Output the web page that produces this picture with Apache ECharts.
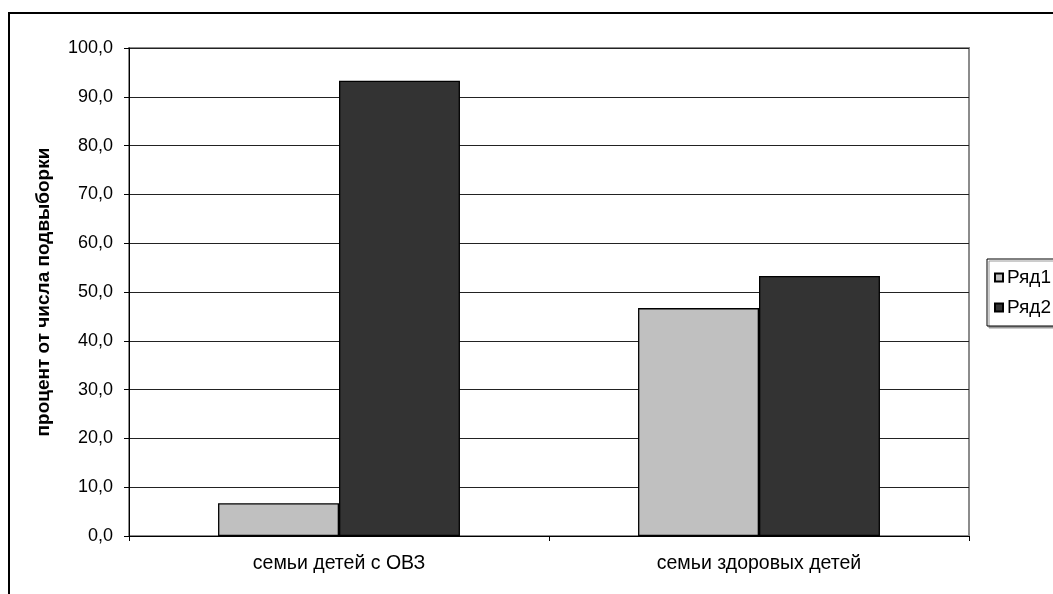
<!DOCTYPE html>
<html>
<head>
<meta charset="utf-8">
<script src="https://cdn.jsdelivr.net/npm/echarts@6/dist/echarts.min.js"></script>
<style>
  html, body { margin: 0; padding: 0; background: #fff; }
  #chart { width: 1053px; height: 594px; }
</style>
</head>
<body>
<div id="chart"></div>
<script>
// Share of each sub-sample, percent
const categories = ['семьи детей с ОВЗ', 'семьи здоровых детей'];
const seriesNames = ['Ряд1', 'Ряд2'];
const row1 = [6.7, 46.7];
const row2 = [93.3, 53.3];
const yTicks = { min: 0, max: 100, step: 10 };
const yTitle = 'процент от числа подвыборки';

const FONT = '"Liberation Sans", Arial, sans-serif';
const chart = echarts.init(document.getElementById('chart'), null, { renderer: 'canvas' });

const barStyle = (fill) => ({ color: fill, borderColor: '#000', borderWidth: 1.3 });

chart.setOption({
  animation: false,
  backgroundColor: '#fff',
  textStyle: { fontFamily: FONT, color: '#000' },
  graphic: [{
    // outer chart frame
    type: 'rect',
    shape: { x: 9, y: 13, width: 1100, height: 640 },
    style: { fill: 'none', stroke: '#000', lineWidth: 2 },
    silent: true,
    z: -1
  }],
  grid: {
    left: 129, top: 48, right: 84, bottom: 58,
    show: true, borderColor: '#8c8c8c', borderWidth: 2, backgroundColor: 'transparent'
  },
  legend: {
    left: 987, top: 259,
    orient: 'vertical',
    icon: 'rect',
    itemWidth: 8, itemHeight: 8, itemGap: 11,
    padding: [9, 8, 9, 7],
    borderColor: '#000', borderWidth: 1,
    backgroundColor: '#fff',
    shadowColor: '#9a9a9a', shadowOffsetX: 2, shadowOffsetY: 2, shadowBlur: 0,
    textStyle: { fontFamily: FONT, fontSize: 19, color: '#000', padding: [0, 0, 0, -1] },
    data: seriesNames
  },
  xAxis: {
    type: 'category',
    data: categories,
    axisLine: { lineStyle: { color: '#000', width: 1 } },
    axisTick: { show: true, length: 5, inside: false, alignWithLabel: false, lineStyle: { color: '#000' } },
    axisLabel: { fontFamily: FONT, fontSize: 19.5, color: '#000', margin: 18 },
    splitLine: { show: false }
  },
  yAxis: {
    type: 'value',
    min: yTicks.min, max: yTicks.max, interval: yTicks.step,
    name: yTitle,
    nameLocation: 'middle',
    nameGap: 76,
    nameRotate: 90,
    nameTextStyle: { fontFamily: FONT, fontSize: 19, fontWeight: 'bold', color: '#000' },
    axisLine: { show: true, lineStyle: { color: '#000', width: 1 } },
    axisTick: { show: true, length: 5, inside: false, lineStyle: { color: '#000' } },
    axisLabel: {
      fontFamily: FONT, fontSize: 18, color: '#000', margin: 16,
      formatter: (v) => v.toFixed(1).replace('.', ',')
    },
    splitLine: { show: true, lineStyle: { color: '#222', width: 1 } }
  },
  series: [
    { name: seriesNames[0], type: 'bar', data: row1, barWidth: '28.8%', barGap: '0%', itemStyle: barStyle('#c0c0c0') },
    { name: seriesNames[1], type: 'bar', data: row2, barWidth: '28.8%', barGap: '0%', itemStyle: barStyle('#333333') }
  ]
});
</script>
</body>
</html>
